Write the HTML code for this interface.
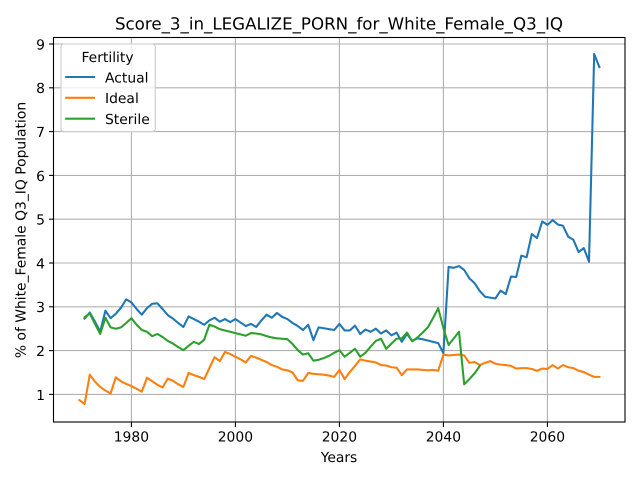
<!DOCTYPE html>
<html>
<head>
<meta charset="utf-8">
<title>Score_3_in_LEGALIZE_PORN_for_White_Female_Q3_IQ</title>
<style>
html,body{margin:0;padding:0;background:#fff}
svg{display:block}
text{font-family:"DejaVu Sans",sans-serif;fill:#000;text-rendering:geometricPrecision}
</style>
</head>
<body>
<svg id="chart" width="640" height="480" viewBox="0 0 640 480" xmlns="http://www.w3.org/2000/svg">
<rect x="0" y="0" width="640" height="480" fill="#fff"/>
<rect x="54" y="38" width="571" height="384" fill="#fff"/>
<g id="grid"></g>
<g id="series"></g>
<rect x="53.5" y="37.5" width="571.5" height="384.5" fill="none" stroke="#000" stroke-width="1.1"/>
<g id="ticks"></g>
<text x="339" y="29.7" text-anchor="middle" font-size="16.67">Score_3_in_LEGALIZE_PORN_for_White_Female_Q3_IQ</text>
<text x="339" y="462" text-anchor="middle" font-size="13.89">Years</text>
<text x="0" y="0" transform="translate(25.4,230) rotate(-90)" text-anchor="middle" font-size="13.89">% of White_Female Q3_IQ Population</text>
<g>
<rect x="61" y="44" width="94.3" height="87.7" rx="3" fill="#fff" fill-opacity="0.8" stroke="#ccc" stroke-width="1.1"/>
<text x="107.5" y="61.8" text-anchor="middle" font-size="13.89">Fertility</text>
<line x1="65.2" x2="95" y1="77" y2="77" stroke="#1f77b4" stroke-width="2.08"/>
<text x="105" y="82.3" font-size="13.89">Actual</text>
<line x1="65.2" x2="95" y1="97.8" y2="97.8" stroke="#ff7f0e" stroke-width="2.08"/>
<text x="105" y="103.2" font-size="13.89">Ideal</text>
<line x1="65.2" x2="95" y1="118.7" y2="118.7" stroke="#2ca02c" stroke-width="2.08"/>
<text x="105" y="124" font-size="13.89">Sterile</text>
</g>
</svg>
<script>
const xTickValues = [1980, 2000, 2020, 2040, 2060];
const yTickValues = [1, 2, 3, 4, 5, 6, 7, 8, 9];
const actualStartYear = 1971;
const idealStartYear = 1970;
const sterileStartYear = 1971;
const actualValues = [
  2.73,2.87,2.66,2.43,2.91,2.74,2.84,2.98,3.17,3.10,
  2.95,2.82,2.97,3.07,3.08,2.95,2.81,2.73,2.63,2.54,
  2.78,2.72,2.66,2.59,2.69,2.75,2.66,2.72,2.65,2.72,
  2.64,2.56,2.61,2.54,2.69,2.82,2.75,2.86,2.77,2.72,
  2.63,2.56,2.47,2.59,2.24,2.53,2.51,2.49,2.47,2.61,
  2.46,2.46,2.57,2.38,2.48,2.43,2.50,2.39,2.46,2.35,
  2.41,2.20,2.38,2.22,2.28,2.26,2.23,2.20,2.17,1.94,
  3.91,3.89,3.93,3.84,3.65,3.54,3.36,3.23,3.21,3.19,
  3.37,3.29,3.69,3.68,4.17,4.13,4.66,4.57,4.95,4.87,
  4.98,4.88,4.85,4.60,4.53,4.25,4.34,4.03,8.77,8.47
];
const idealValues = [
  0.87,0.78,1.45,1.29,1.17,1.09,1.02,1.39,1.30,1.24,
  1.19,1.13,1.06,1.38,1.30,1.22,1.16,1.36,1.31,1.23,
  1.17,1.49,1.44,1.40,1.35,1.60,1.85,1.76,1.97,1.92,
  1.86,1.80,1.73,1.88,1.84,1.79,1.74,1.67,1.63,1.57,
  1.55,1.50,1.32,1.31,1.49,1.47,1.46,1.45,1.43,1.40,
  1.56,1.35,1.51,1.65,1.80,1.77,1.75,1.73,1.67,1.66,
  1.62,1.61,1.44,1.57,1.57,1.57,1.56,1.55,1.56,1.54,
  1.91,1.89,1.90,1.91,1.89,1.72,1.74,1.67,1.72,1.76,
  1.70,1.68,1.67,1.65,1.59,1.60,1.60,1.58,1.54,1.59,
  1.58,1.67,1.59,1.67,1.62,1.60,1.54,1.51,1.45,1.40,1.40
];
const sterileValues = [
  2.76,2.85,2.61,2.38,2.75,2.53,2.50,2.53,2.63,2.74,
  2.59,2.47,2.43,2.33,2.38,2.31,2.22,2.16,2.08,2.01,
  2.11,2.20,2.15,2.25,2.59,2.55,2.49,2.46,2.43,2.40,
  2.37,2.34,2.40,2.39,2.37,2.33,2.30,2.28,2.27,2.26,
  2.15,2.01,1.91,1.94,1.77,1.79,1.83,1.88,1.95,2.01,
  1.86,1.95,2.04,1.86,1.95,2.09,2.22,2.27,2.04,2.16,
  2.27,2.28,2.41,2.21,2.30,2.41,2.53,2.74,2.97,2.51,
  2.13,2.28,2.43,1.23,1.35,1.48,1.65
];

const NS = 'http://www.w3.org/2000/svg';
const plotLeft = 54, plotRight = 625, plotTop = 38, plotBottom = 422;
function xScale(year) { return 131.4 + (year - 1980) * 5.2; }
function yScale(value) { return 394.4 - (value - 1) * 43.8; }

function makeLine(x1, y1, x2, y2, color, width) {
  const l = document.createElementNS(NS, 'line');
  l.setAttribute('x1', x1);
  l.setAttribute('y1', y1);
  l.setAttribute('x2', x2);
  l.setAttribute('y2', y2);
  l.setAttribute('stroke', color);
  l.setAttribute('stroke-width', width);
  return l;
}
function makeLabel(x, y, anchor, content) {
  const t = document.createElementNS(NS, 'text');
  t.setAttribute('x', x);
  t.setAttribute('y', y);
  t.setAttribute('text-anchor', anchor);
  t.setAttribute('font-size', '13.89');
  t.textContent = content;
  return t;
}

const gridGroup = document.getElementById('grid');
const tickGroup = document.getElementById('ticks');
const seriesGroup = document.getElementById('series');

xTickValues.forEach(function (year) {
  const px = xScale(year);
  const g = makeLine(px, plotTop, px, plotBottom, '#b0b0b0', 1.1);
  
  
  gridGroup.appendChild(g);
  const m = makeLine(px, plotBottom, px, plotBottom + 4.9, '#000', 1.1);
  
  
  tickGroup.appendChild(m);
  const t = makeLabel(px, 441.7, 'middle', String(year));
  
  
  tickGroup.appendChild(t);
});

yTickValues.forEach(function (value) {
  const py = yScale(value);
  const g = makeLine(plotLeft, py, plotRight, py, '#b0b0b0', 1.1);
  
  
  gridGroup.appendChild(g);
  const m = makeLine(plotLeft - 4.9, py, plotLeft, py, '#000', 1.1);
  
  
  tickGroup.appendChild(m);
  const t = makeLabel(45, py + 5.4, 'end', String(value));
  
  
  tickGroup.appendChild(t);
});

function drawSeries(values, startYear, color, name) {
  const points = values.map(function (v, i) {
    return xScale(startYear + i).toFixed(2) + ',' + yScale(v).toFixed(2);
  }).join(' ');
  const p = document.createElementNS(NS, 'polyline');
  p.setAttribute('points', points);
  p.setAttribute('fill', 'none');
  p.setAttribute('stroke', color);
  p.setAttribute('stroke-width', '2.08');
  p.setAttribute('stroke-linejoin', 'round');
  p.setAttribute('stroke-linecap', 'square');
  
  
  seriesGroup.appendChild(p);
}
drawSeries(actualValues, actualStartYear, '#1f77b4', 'series-actual');
drawSeries(idealValues, idealStartYear, '#ff7f0e', 'series-ideal');
drawSeries(sterileValues, sterileStartYear, '#2ca02c', 'series-sterile');
</script>
</body>
</html>
